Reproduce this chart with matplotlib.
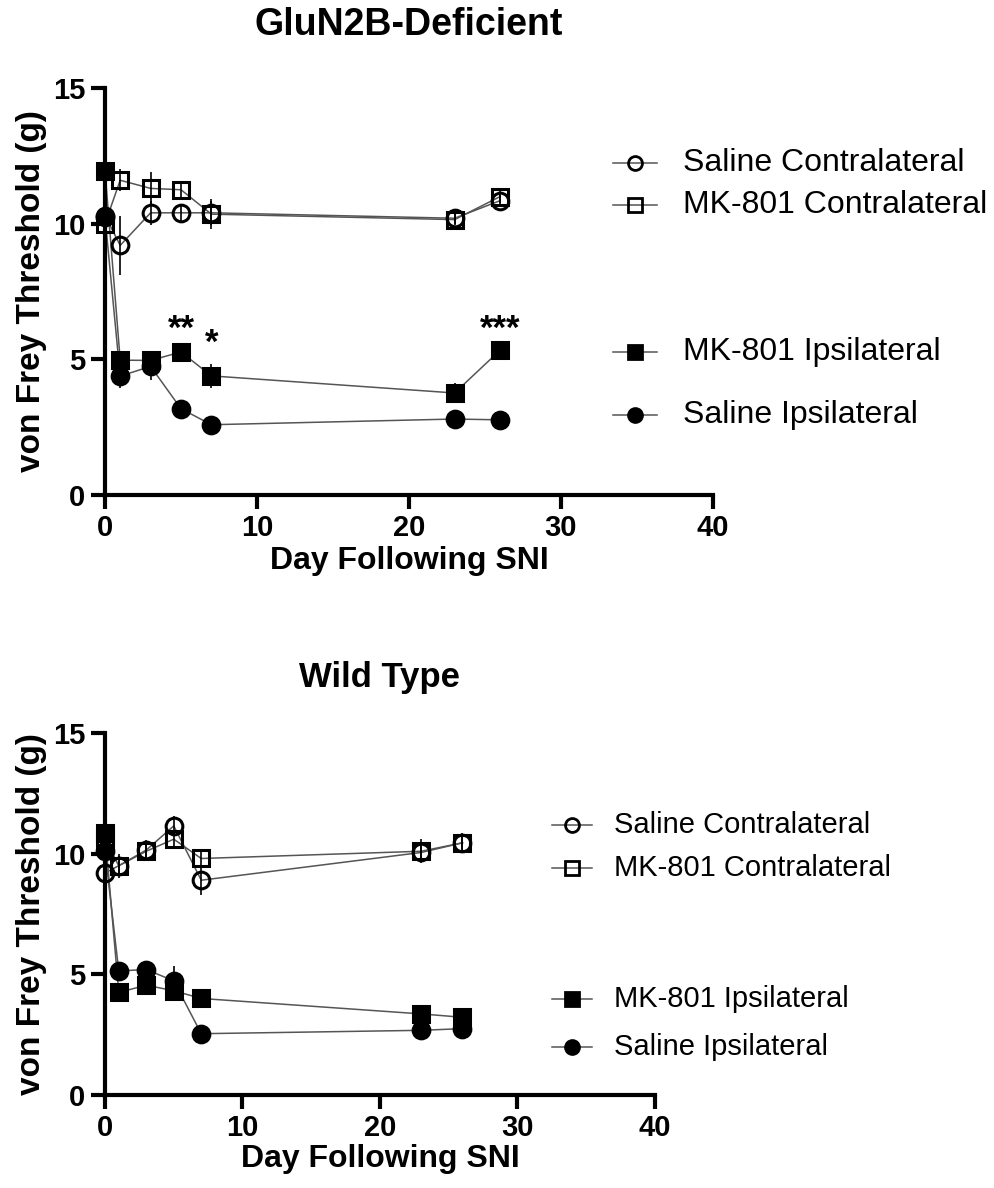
import matplotlib
matplotlib.use('Agg')
import matplotlib.pyplot as plt
from matplotlib.lines import Line2D

plt.rcParams['font.family'] = ['Liberation Sans', 'DejaVu Sans']

days = [0, 1, 3, 5, 7, 23, 26]

# GluN2B-deficient mice
ko_sal_contra = [10.3, 9.2, 10.4, 10.4, 10.4, 10.2, 10.85]
ko_sal_contra_err = [0.3, 1.1, 0.45, 0.3, 0.45, 0.2, 0.2]
ko_mk_contra = [10.0, 11.6, 11.3, 11.25, 10.35, 10.15, 11.0]
ko_mk_contra_err = [0.3, 0.4, 0.6, 0.3, 0.55, 0.2, 0.25]
ko_mk_ipsi = [11.95, 4.97, 4.96, 5.27, 4.39, 3.76, 5.34]
ko_mk_ipsi_err = [0.2, 0.3, 0.35, 0.35, 0.45, 0.35, 0.25]
ko_sal_ipsi = [10.25, 4.38, 4.74, 3.18, 2.59, 2.80, 2.77]
ko_sal_ipsi_err = [0.3, 0.45, 0.5, 0.15, 0.1, 0.1, 0.1]
ko_stars = [(5, '**'), (7, '*'), (26, '***')]
ko_star_y = [6.1, 5.6, 6.1]

# wild type mice
wt_sal_contra = [9.2, 9.5, 10.15, 11.15, 8.9, 10.05, 10.45]
wt_sal_contra_err = [0.3, 0.4, 0.4, 0.4, 0.6, 0.4, 0.3]
wt_mk_contra = [10.6, 9.5, 10.1, 10.6, 9.8, 10.1, 10.45]
wt_mk_contra_err = [0.4, 0.5, 0.4, 0.4, 0.4, 0.5, 0.4]
wt_mk_ipsi = [10.85, 4.25, 4.55, 4.32, 4.0, 3.36, 3.22]
wt_mk_ipsi_err = [0.3, 0.4, 0.4, 0.4, 0.4, 0.15, 0.15]
wt_sal_ipsi = [10.1, 5.14, 5.2, 4.73, 2.54, 2.68, 2.75]
wt_sal_ipsi_err = [0.3, 0.2, 0.2, 0.6, 0.1, 0.1, 0.1]

labels_legend = ['Saline Contralateral', 'MK-801 Contralateral', 'MK-801 Ipsilateral', 'Saline Ipsilateral']

styles = {
    'Saline Contralateral': ('o', 'none'),
    'MK-801 Contralateral': ('s', 'none'),
    'MK-801 Ipsilateral': ('s', 'black'),
    'Saline Ipsilateral': ('o', 'black'),
}


def draw_series(ax, y, err, label):
    marker, face = styles[label]
    ax.plot(days, y, color='#555555', lw=1.1, zorder=2, clip_on=False)
    ax.plot(days, y, ls='none', marker=marker, ms=12, mfc=face, mec='black',
            mew=2.2, zorder=3, clip_on=False)
    ax.errorbar(days, y, yerr=err, fmt='none', ecolor='black', elinewidth=1.2,
                capsize=0, zorder=4, clip_on=False)


def style_axes(ax, xlab_y, ylab_x):
    ax.set_xlim(0, 40)
    ax.set_ylim(0, 15)
    ax.set_xticks([0, 10, 20, 30, 40])
    ax.set_yticks([0, 5, 10, 15])
    for s in ['top', 'right']:
        ax.spines[s].set_visible(False)
    for s in ['left', 'bottom']:
        ax.spines[s].set_linewidth(3)
    ax.tick_params(width=3, length=10, labelsize=21, pad=4)
    for t in ax.get_xticklabels() + ax.get_yticklabels():
        t.set_fontweight('bold')
    ax.set_xlabel('Day Following SNI', fontsize=23, fontweight='bold')
    ax.set_ylabel('von Frey Threshold (g)', fontsize=24, fontweight='bold')
    ax.xaxis.set_label_coords(0.5, xlab_y)
    ax.yaxis.set_label_coords(ylab_x, 0.5)


def draw_legend(fig, ys, x0, x1, xt, fs):
    W, H = 995, 1188
    for lab, yp in zip(labels_legend, ys):
        marker, face = styles[lab]
        fig.add_artist(Line2D([x0 / W, x1 / W], [1 - yp / H, 1 - yp / H], color='#555555', lw=1.1))
        fig.add_artist(Line2D([(x0 + x1) / 2 / W], [1 - yp / H], ls='none', marker=marker, ms=10,
                              mfc=face, mec='black', mew=2))
        fig.text(xt / W, 1 - yp / H, lab, fontsize=fs, va='center', ha='left')


fig = plt.figure(figsize=(9.95, 11.88), dpi=100)
ax1 = fig.add_axes([105 / 995, 1 - 495 / 1188, 608 / 995, 407 / 1188])
ax2 = fig.add_axes([105 / 995, 1 - 1095 / 1188, 550 / 995, 362 / 1188])

draw_series(ax1, ko_sal_contra, ko_sal_contra_err, 'Saline Contralateral')
draw_series(ax1, ko_mk_contra, ko_mk_contra_err, 'MK-801 Contralateral')
draw_series(ax1, ko_mk_ipsi, ko_mk_ipsi_err, 'MK-801 Ipsilateral')
draw_series(ax1, ko_sal_ipsi, ko_sal_ipsi_err, 'Saline Ipsilateral')
for (d, s), yv in zip(ko_stars, ko_star_y):
    ax1.text(d, yv, s, ha='center', va='center', fontsize=25, fontweight='bold')

draw_series(ax2, wt_sal_contra, wt_sal_contra_err, 'Saline Contralateral')
draw_series(ax2, wt_mk_contra, wt_mk_contra_err, 'MK-801 Contralateral')
draw_series(ax2, wt_mk_ipsi, wt_mk_ipsi_err, 'MK-801 Ipsilateral')
draw_series(ax2, wt_sal_ipsi, wt_sal_ipsi_err, 'Saline Ipsilateral')

style_axes(ax1, -0.125, -0.095)
style_axes(ax2, -0.135, -0.105)

fig.text(409 / 995, 1 - 25 / 1188, 'GluN2B-Deficient', fontsize=27, fontweight='bold',
         ha='center', va='center')
fig.text(380 / 995, 1 - 677 / 1188, 'Wild Type', fontsize=25, fontweight='bold',
         ha='center', va='center')

draw_legend(fig, [163, 205, 352, 415], 613, 657, 683, 23)
draw_legend(fig, [825, 868, 999, 1047], 552, 592, 614, 21)

fig.savefig('out.png', dpi=100)
